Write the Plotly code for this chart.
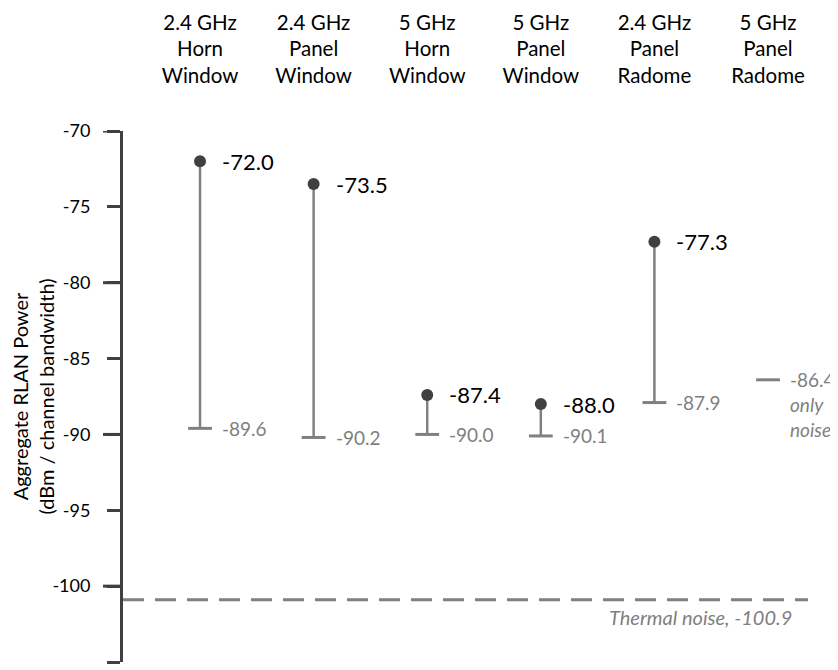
import plotly.graph_objects as go

# ---- data ----
categories = ["2.4 GHz<br>Horn<br>Window", "2.4 GHz<br>Panel<br>Window", "5 GHz<br>Horn<br>Window",
              "5 GHz<br>Panel<br>Window", "2.4 GHz<br>Panel<br>Radome", "5 GHz<br>Panel<br>Radome"]
signal_values = [-72.0, -73.5, -87.4, -88.0, -77.3, None]
noise_values = [-89.6, -90.2, -90.0, -90.1, -87.9, -86.4]
thermal_noise = -100.9
y_ticks = [-70, -75, -80, -85, -90, -95, -100, -105]
y_major = [-70, -80, -90, -100]

FONT = "Lato"
AX = "#404040"
GREY = "#808080"
LABEL_GREY = "#7f7f7f"

# page body has an 8px margin; size the figure to fit the window
W, H = 830, 662
ML, MR, MT, MB = 115, 30, 123, 8

idx = list(range(len(categories)))

fig = go.Figure()

# stems
sx, sy = [], []
for i, (s, n) in enumerate(zip(signal_values, noise_values)):
    if s is not None:
        sx += [i, i, None]
        sy += [n, s, None]
fig.add_trace(go.Scatter(x=sx, y=sy, mode="lines", line=dict(color=GREY, width=2.5),
                         hoverinfo="skip", showlegend=False))
# noise caps
fig.add_trace(go.Scatter(x=idx, y=noise_values, mode="markers",
                         marker=dict(symbol="line-ew", size=17, line=dict(color=GREY, width=3)),
                         showlegend=False))
# signal dots
sig_x = [i for i, s in zip(idx, signal_values) if s is not None]
sig_y = [s for s in signal_values if s is not None]
fig.add_trace(go.Scatter(x=sig_x, y=sig_y, mode="markers",
                         marker=dict(symbol="circle", size=12, color=AX),
                         showlegend=False))

annotations = []
for i, s in zip(sig_x, sig_y):
    annotations.append(dict(x=i, y=s, text=f"{s:.1f}", showarrow=False, xanchor="left",
                            xshift=20, font=dict(family=FONT, size=22, color="#000000")))
for i, n in zip(idx, noise_values):
    annotations.append(dict(x=i, y=n, text=f"{n:.1f}", showarrow=False, xanchor="left",
                            xshift=20, font=dict(family=FONT, size=19, color=LABEL_GREY)))
# only noise note
last = idx[-1]
annotations.append(dict(x=last, y=noise_values[-1], text="<i>only</i>", showarrow=False, xanchor="left",
                        xshift=20, yshift=-25, font=dict(family=FONT, size=19, color=LABEL_GREY)))
annotations.append(dict(x=last, y=noise_values[-1], text="<i>noise</i>", showarrow=False, xanchor="left",
                        xshift=20, yshift=-50, font=dict(family=FONT, size=19, color=LABEL_GREY)))
# thermal noise label
annotations.append(dict(x=1, xref="paper", y=thermal_noise, text=f"<i>Thermal noise, {thermal_noise:.1f}</i>",
                        showarrow=False, xanchor="right", yanchor="middle", xshift=-14, yshift=-17,
                        font=dict(family=FONT, size=20, color=LABEL_GREY)))

shapes = [dict(type="line", xref="paper", x0=0, x1=1, yref="y", y0=thermal_noise, y1=thermal_noise,
               line=dict(color=GREY, width=3, dash="21px,11px"), layer="below")]
plot_w = W - ML - MR
for v in y_major:
    shapes.append(dict(type="line", xref="paper", x0=-20 / plot_w, x1=0, yref="y", y0=v, y1=v,
                       line=dict(color=AX, width=3)))

fig.update_layout(
    width=W, height=H,
    margin=dict(l=ML, r=MR, t=MT, b=MB, autoexpand=False),
    plot_bgcolor="white", paper_bgcolor="white",
    font=dict(family=FONT, color="#000000"),
    annotations=annotations, shapes=shapes,
    xaxis=dict(side="top", tickmode="array", tickvals=idx, ticktext=categories, automargin=False,
               range=[-0.678, 5.352], showgrid=False, zeroline=False, showline=False, ticks="",
               tickfont=dict(family=FONT, size=20.5, color="#000000"), ticklabelstandoff=43),
    yaxis=dict(range=[-105, -70], tickmode="array", tickvals=y_ticks, ticktext=[str(t) for t in y_ticks],
               automargin=False,
               showgrid=False, zeroline=False, showline=True, linecolor=AX, linewidth=3,
               ticks="outside", ticklen=13, tickwidth=3, tickcolor=AX,
               tickfont=dict(family=FONT, size=18, color="#000000"), ticklabelstandoff=13,
               title=dict(text="Aggregate RLAN Power<br>(dBm / channel bandwidth)",
                          font=dict(family=FONT, size=20, color="#000000"), standoff=6)),
)

fig.write_html("out.html")
